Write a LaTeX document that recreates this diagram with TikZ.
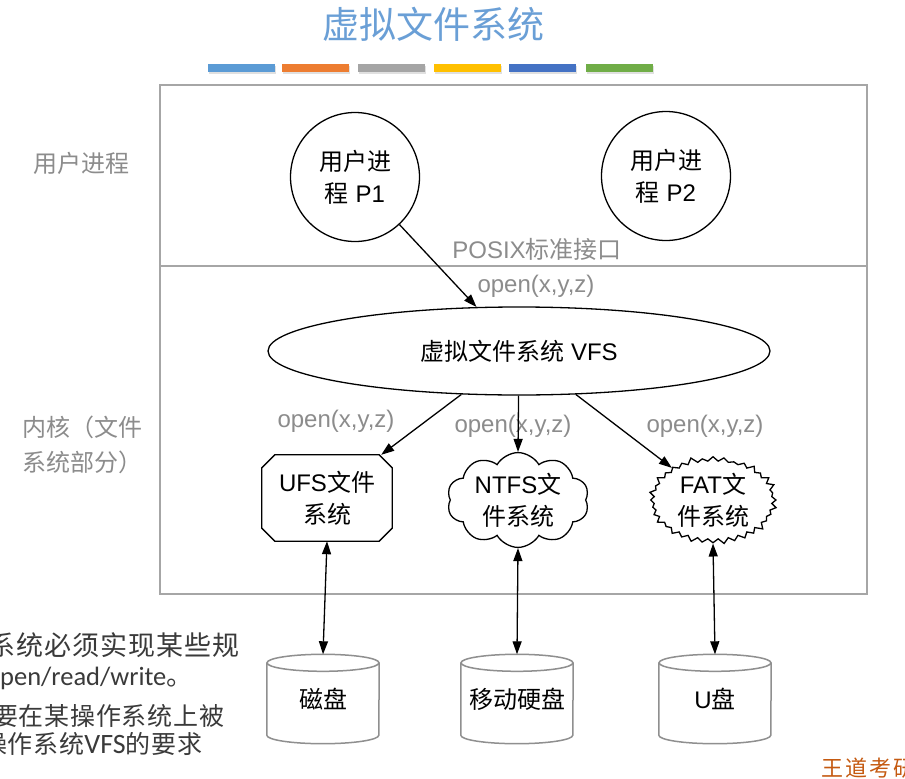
\documentclass[tikz,border=0pt]{standalone}
\usepackage{fontspec}
\setmainfont{Liberation Sans}
\newfontfamily\cjk{Noto Sans CJK SC}
\newfontfamily\cjkwideA[LetterSpace=4]{Noto Sans CJK SC}
\newfontfamily\cjkwideB[LetterSpace=3]{Noto Sans CJK SC}
\newfontfamily\cjkwideC[LetterSpace=10]{Noto Sans CJK SC}
\newfontfamily\latinbody{Carlito}
\usetikzlibrary{shapes.geometric,shapes.symbols,arrows.meta}
\newcommand\zh[1]{{\cjk #1}}
\definecolor{titleblue}{HTML}{6A9FD6}
\definecolor{barA}{HTML}{5B9BD5}
\definecolor{barB}{HTML}{ED7D31}
\definecolor{barC}{HTML}{A5A5A5}
\definecolor{barD}{HTML}{FFC000}
\definecolor{barE}{HTML}{4472C4}
\definecolor{barF}{HTML}{70AD47}
\definecolor{labelgray}{HTML}{8C8C8C}
\definecolor{framegray}{HTML}{A6A6A6}
\definecolor{cylgray}{HTML}{8F8F8F}
\definecolor{bodytext}{HTML}{3A3A3A}
\definecolor{wdorange}{HTML}{C55A11}
\begin{document}
\begin{tikzpicture}[x=1pt,y=-1pt,
  txt/.style={font=\fontsize{24}{32}\selectfont, text=black, align=center, inner sep=0pt},
  glbl/.style={font=\fontsize{24}{32}\selectfont, text=labelgray, inner sep=0pt},
  proc/.style={txt, circle, draw=black, line width=1.3pt, minimum size=129pt},
  shapeline/.style={draw=black, line width=1.3pt},
  arr/.style={draw=black, line width=1.3pt, -{Triangle[length=13pt,width=9pt]}},
  dbl/.style={draw=black, line width=1.3pt, {Triangle[length=13pt,width=9pt]}-{Triangle[length=13pt,width=9pt]}},
  cylbox/.style={txt, minimum width=112pt, minimum height=89pt},
  bl/.style={text=bodytext, inner sep=0pt, anchor=base west}
]
\clip (0,0) rectangle (905,779);
\fill[white] (0,0) rectangle (905,779);

% title and colour bars
\node[font=\cjk\fontsize{37}{40}\selectfont, text=titleblue] (title) at (433,24) {虚拟文件系统};
\foreach \x/\c in {208/barA,282/barB,358/barC,434/barD,509/barE,586/barF}{
  \fill[black!12] (\x+1,65.5) rectangle (\x+68,73.5);
  \fill[\c] (\x,64) rectangle (\x+67,71.5);
}

% frame
\draw[framegray, line width=1.5pt] (160,85) rectangle (867,594);
\draw[framegray, line width=1.5pt] (160,266) -- (867,266);

% left labels
\node[font=\cjk\fontsize{24}{35}\selectfont, text=labelgray, inner sep=0pt] (lu) at (82,163) {用户进程};
\node[font=\cjk\fontsize{24}{35}\selectfont, text=labelgray, inner sep=0pt, align=left, anchor=west] (lk) at (22,445) {内核（文件\\系统部分）};

% processes
\node[proc] (p1) at (355,177) {\zh{用户进}\\\zh{程} P1};
\node[proc] (p2) at (666,176) {\zh{用户进}\\\zh{程} P2};

% VFS
\node[txt, ellipse, draw=black, line width=1.3pt, minimum width=502pt, minimum height=88pt] (vfs) at (519,351) {\zh{虚拟文件系统} VFS};

% UFS (chamfered)
\node[txt, minimum width=130pt, minimum height=86pt] (ufs) at (327,498) {UFS\zh{文件}\\\zh{系统}};
\draw[shapeline] ([xshift=13pt]ufs.north west) -- ([xshift=-13pt]ufs.north east)
  -- ([yshift=-13pt]ufs.north east) -- ([yshift=13pt]ufs.south east)
  -- ([xshift=-13pt]ufs.south east) -- ([xshift=13pt]ufs.south west)
  -- ([yshift=13pt]ufs.south west) -- ([yshift=-13pt]ufs.north west) -- cycle;

% NTFS cloud
\node[txt, cloud, cloud puffs=10, cloud puff arc=120, aspect=1.6, shapeline, minimum width=142pt, minimum height=88pt] (ntfs) at (518,500) {NTFS\zh{文}\\\zh{件系统}};

% FAT starburst
\node[txt, starburst, starburst points=36, starburst point height=6pt, shapeline, minimum width=130pt, minimum height=90pt] (fat) at (713,500) {FAT\zh{文}\\\zh{件系统}};

% disks
\node[cylbox] (d1) at (323,699) {\zh{磁盘}};
\node[cylbox] (d2) at (517,699) {\zh{移动硬盘}};
\node[cylbox] (d3) at (715,699) {U\zh{盘}};
\foreach \n in {d1,d2,d3}{
  \draw[cylgray, line width=1.5pt] ([yshift=-8.5pt]\n.north) ellipse [x radius=56, y radius=8.5];
  \draw[cylgray, line width=1.5pt] ([yshift=-8.5pt]\n.north west) -- ([yshift=8.5pt]\n.south west)
     arc[start angle=180, end angle=0, x radius=56, y radius=8.5] -- ([yshift=-8.5pt]\n.north east);
}

% labels
\node[glbl, anchor=base] (posix) at (537,258) {POSIX\zh{标准接口}};
\node[glbl, anchor=base] (o0) at (536,292) {open(x,y,z)};
\node[glbl, anchor=base] (o1) at (336,427) {open(x,y,z)};
\node[glbl, anchor=base] (o2) at (513,432) {open(x,y,z)};
\node[glbl, anchor=base] (o3) at (705,432) {open(x,y,z)};

% connectors
\draw[arr] (p1) -- (vfs.134);
\draw[arr] (vfs) -- ([xshift=-11pt]ufs.north east);
\draw[arr] (vfs) -- (ntfs.north);
\draw[arr] (vfs) -- (fat.142);
\draw[dbl] (ufs.south) -- (d1.north);
\draw[dbl] (ntfs.south) -- (d2.north);
\draw[dbl] (fat.south) -- (d3.north);

% bottom-left slide text (cut off by the page edge, as in the slide)
\node[bl, font=\cjkwideA\fontsize{27}{30}\selectfont] (t1) at (-12,655) {系统必须实现某些规};
\node[bl, font=\latinbody\fontsize{26.5}{30}\selectfont] (t2) at (-14,685) {open/read/write\zh{。}};
\node[bl, font=\cjkwideB\fontsize{25}{30}\selectfont] (t3) at (-7,725) {要在某操作系统上被};
\node[bl, font=\cjkwideB\fontsize{25}{30}\selectfont] (t4) at (-18,753) {操作系统{\latinbody\fontsize{28}{30}\selectfont VFS}的要求};

% corner mark
\node[font=\cjkwideC\fontsize{22}{24}\selectfont, text=wdorange, inner sep=0pt, anchor=base west] (wd) at (821,776) {王道考研};
\end{tikzpicture}
\end{document}
